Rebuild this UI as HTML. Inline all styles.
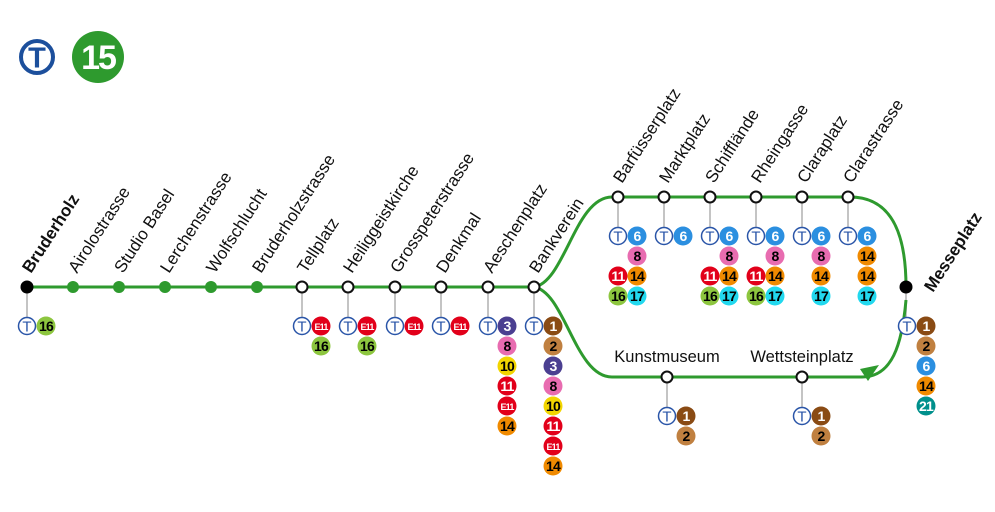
<!DOCTYPE html>
<html><head><meta charset="utf-8"><style>
html,body{margin:0;padding:0;background:#fff}
svg{display:block}
text{font-family:"Liberation Sans",sans-serif}
</style></head><body>
<svg width="995" height="512" viewBox="0 0 995 512" xmlns="http://www.w3.org/2000/svg">
<defs>
<g id="T"><circle r="8.5" fill="#fff" stroke="#2a55a8" stroke-width="1.5"/><text y="5.5" text-anchor="middle" font-size="15" fill="#2a55a8">T</text></g>
</defs>
<!-- logo -->
<circle cx="37" cy="57" r="16" fill="#fff" stroke="#1c4f9c" stroke-width="4"/>
<text x="37" y="67.5" text-anchor="middle" font-size="29" font-weight="bold" fill="#1c4f9c">T</text>
<circle cx="98" cy="57" r="26" fill="#2e9a2e"/>
<text x="98" y="69" text-anchor="middle" font-size="34" font-weight="bold" fill="#fff" letter-spacing="-2">15</text>

<g stroke="#c4c4c4" stroke-width="2">
<line x1="27" y1="287" x2="27" y2="318"/><line x1="302" y1="287" x2="302" y2="318"/><line x1="348" y1="287" x2="348" y2="318"/><line x1="395" y1="287" x2="395" y2="318"/><line x1="441" y1="287" x2="441" y2="318"/><line x1="488" y1="287" x2="488" y2="318"/><line x1="534" y1="287" x2="534" y2="318"/>
<line x1="618" y1="197" x2="618" y2="228"/><line x1="664" y1="197" x2="664" y2="228"/><line x1="710" y1="197" x2="710" y2="228"/><line x1="756" y1="197" x2="756" y2="228"/><line x1="802" y1="197" x2="802" y2="228"/><line x1="848" y1="197" x2="848" y2="228"/>
<line x1="667" y1="377" x2="667" y2="408"/><line x1="802" y1="377" x2="802" y2="408"/>
<line x1="906" y1="287" x2="906" y2="318"/>
</g>

<g fill="none" stroke="#2e9a2e" stroke-width="3">
<line x1="27" y1="287" x2="534" y2="287"/>
<path d="M534,287 C565,282 575,197 612,197 L850,197 C895,197 906,240 906,287"/>
<path d="M534,287 C565,292 575,377 612,377 L862,377 C892,377 902,345 906,300"/>
</g>
<path d="M860,369 L879,365 L868,381 Z" fill="#2e9a2e"/>

<g fill="#2e9a2e"><circle cx="73" cy="287" r="6"/><circle cx="119" cy="287" r="6"/><circle cx="165" cy="287" r="6"/><circle cx="211" cy="287" r="6"/><circle cx="257" cy="287" r="6"/></g>
<g fill="#fff" stroke="#111" stroke-width="2">
<circle cx="302" cy="287" r="5.5"/><circle cx="348" cy="287" r="5.5"/><circle cx="395" cy="287" r="5.5"/><circle cx="441" cy="287" r="5.5"/><circle cx="488" cy="287" r="5.5"/><circle cx="534" cy="287" r="5.5"/>
<circle cx="618" cy="197" r="5.5"/><circle cx="664" cy="197" r="5.5"/><circle cx="710" cy="197" r="5.5"/><circle cx="756" cy="197" r="5.5"/><circle cx="802" cy="197" r="5.5"/><circle cx="848" cy="197" r="5.5"/>
<circle cx="667" cy="377" r="5.5"/><circle cx="802" cy="377" r="5.5"/>
</g>
<circle cx="27" cy="287" r="6.5" fill="#000"/>
<circle cx="906" cy="287" r="6.5" fill="#000"/>

<g font-size="17" fill="#111">
<text transform="translate(31,274) rotate(-57)" font-weight="bold">Bruderholz</text>
<text transform="translate(77,274) rotate(-57)">Airolostrasse</text>
<text transform="translate(123,274) rotate(-57)">Studio Basel</text>
<text transform="translate(169,274) rotate(-57)">Lerchenstrasse</text>
<text transform="translate(215,274) rotate(-57)">Wolfschlucht</text>
<text transform="translate(261,274) rotate(-57)">Bruderholzstrasse</text>
<text transform="translate(306,274) rotate(-57)">Tellplatz</text>
<text transform="translate(352,274) rotate(-57)">Heiliggeistkirche</text>
<text transform="translate(399,274) rotate(-57)">Grosspeterstrasse</text>
<text transform="translate(445,274) rotate(-57)">Denkmal</text>
<text transform="translate(492,274) rotate(-57)">Aeschenplatz</text>
<text transform="translate(538,274) rotate(-57)">Bankverein</text>
<text transform="translate(622,184) rotate(-57)">Barfüsserplatz</text>
<text transform="translate(668,184) rotate(-57)">Marktplatz</text>
<text transform="translate(714,184) rotate(-57)">Schifflände</text>
<text transform="translate(760,184) rotate(-57)">Rheingasse</text>
<text transform="translate(806,184) rotate(-57)">Claraplatz</text>
<text transform="translate(852,184) rotate(-57)">Clarastrasse</text>
<text transform="translate(933,293) rotate(-57)" font-weight="bold">Messeplatz</text>
<text x="667" y="362" text-anchor="middle" font-size="16.5">Kunstmuseum</text>
<text x="802" y="362" text-anchor="middle" font-size="16.5">Wettsteinplatz</text>
</g>

<use href="#T" x="27" y="326"/><use href="#T" x="302" y="326"/><use href="#T" x="348" y="326"/><use href="#T" x="395" y="326"/><use href="#T" x="441" y="326"/><use href="#T" x="488" y="326"/><use href="#T" x="534" y="326"/>
<use href="#T" x="618" y="236"/><use href="#T" x="664" y="236"/><use href="#T" x="710" y="236"/><use href="#T" x="756" y="236"/><use href="#T" x="802" y="236"/><use href="#T" x="848" y="236"/>
<use href="#T" x="667" y="416"/><use href="#T" x="802" y="416"/><use href="#T" x="907" y="326"/>

<g font-size="14" font-weight="bold" text-anchor="middle" letter-spacing="-0.8">
<circle cx="46" cy="326" r="9.5" fill="#8dc63f"/><text x="46" y="331" fill="#000">16</text>
<circle cx="321" cy="326" r="9.5" fill="#e2001a"/><text x="321" y="330" fill="#fff" font-size="9">E11</text>
<circle cx="321" cy="346" r="9.5" fill="#8dc63f"/><text x="321" y="351" fill="#000">16</text>
<circle cx="367" cy="326" r="9.5" fill="#e2001a"/><text x="367" y="330" fill="#fff" font-size="9">E11</text>
<circle cx="367" cy="346" r="9.5" fill="#8dc63f"/><text x="367" y="351" fill="#000">16</text>
<circle cx="414" cy="326" r="9.5" fill="#e2001a"/><text x="414" y="330" fill="#fff" font-size="9">E11</text>
<circle cx="460" cy="326" r="9.5" fill="#e2001a"/><text x="460" y="330" fill="#fff" font-size="9">E11</text>
<circle cx="507" cy="326" r="9.5" fill="#4b3f91"/><text x="507" y="331" fill="#fff">3</text>
<circle cx="507" cy="346" r="9.5" fill="#e86cb0"/><text x="507" y="351" fill="#000">8</text>
<circle cx="507" cy="366" r="9.5" fill="#f2d500"/><text x="507" y="371" fill="#000">10</text>
<circle cx="507" cy="386" r="9.5" fill="#e2001a"/><text x="507" y="391" fill="#fff">11</text>
<circle cx="507" cy="406" r="9.5" fill="#e2001a"/><text x="507" y="410" fill="#fff" font-size="9">E11</text>
<circle cx="507" cy="426" r="9.5" fill="#f08a00"/><text x="507" y="431" fill="#000">14</text>
<circle cx="553" cy="326" r="9.5" fill="#8a4b14"/><text x="553" y="331" fill="#fff">1</text>
<circle cx="553" cy="346" r="9.5" fill="#c08040"/><text x="553" y="351" fill="#000">2</text>
<circle cx="553" cy="366" r="9.5" fill="#4b3f91"/><text x="553" y="371" fill="#fff">3</text>
<circle cx="553" cy="386" r="9.5" fill="#e86cb0"/><text x="553" y="391" fill="#000">8</text>
<circle cx="553" cy="406" r="9.5" fill="#f2d500"/><text x="553" y="411" fill="#000">10</text>
<circle cx="553" cy="426" r="9.5" fill="#e2001a"/><text x="553" y="431" fill="#fff">11</text>
<circle cx="553" cy="446" r="9.5" fill="#e2001a"/><text x="553" y="450" fill="#fff" font-size="9">E11</text>
<circle cx="553" cy="466" r="9.5" fill="#f08a00"/><text x="553" y="471" fill="#000">14</text>
<circle cx="637" cy="236" r="9.5" fill="#2b8fe0"/><text x="637" y="241" fill="#fff">6</text>
<circle cx="637" cy="256" r="9.5" fill="#e86cb0"/><text x="637" y="261" fill="#000">8</text>
<circle cx="618" cy="276" r="9.5" fill="#e2001a"/><text x="618" y="281" fill="#fff">11</text>
<circle cx="637" cy="276" r="9.5" fill="#f08a00"/><text x="637" y="281" fill="#000">14</text>
<circle cx="618" cy="296" r="9.5" fill="#8dc63f"/><text x="618" y="301" fill="#000">16</text>
<circle cx="637" cy="296" r="9.5" fill="#22d8ee"/><text x="637" y="301" fill="#000">17</text>
<circle cx="683" cy="236" r="9.5" fill="#2b8fe0"/><text x="683" y="241" fill="#fff">6</text>
<circle cx="729" cy="236" r="9.5" fill="#2b8fe0"/><text x="729" y="241" fill="#fff">6</text>
<circle cx="729" cy="256" r="9.5" fill="#e86cb0"/><text x="729" y="261" fill="#000">8</text>
<circle cx="710" cy="276" r="9.5" fill="#e2001a"/><text x="710" y="281" fill="#fff">11</text>
<circle cx="729" cy="276" r="9.5" fill="#f08a00"/><text x="729" y="281" fill="#000">14</text>
<circle cx="710" cy="296" r="9.5" fill="#8dc63f"/><text x="710" y="301" fill="#000">16</text>
<circle cx="729" cy="296" r="9.5" fill="#22d8ee"/><text x="729" y="301" fill="#000">17</text>
<circle cx="775" cy="236" r="9.5" fill="#2b8fe0"/><text x="775" y="241" fill="#fff">6</text>
<circle cx="775" cy="256" r="9.5" fill="#e86cb0"/><text x="775" y="261" fill="#000">8</text>
<circle cx="756" cy="276" r="9.5" fill="#e2001a"/><text x="756" y="281" fill="#fff">11</text>
<circle cx="775" cy="276" r="9.5" fill="#f08a00"/><text x="775" y="281" fill="#000">14</text>
<circle cx="756" cy="296" r="9.5" fill="#8dc63f"/><text x="756" y="301" fill="#000">16</text>
<circle cx="775" cy="296" r="9.5" fill="#22d8ee"/><text x="775" y="301" fill="#000">17</text>
<circle cx="821" cy="236" r="9.5" fill="#2b8fe0"/><text x="821" y="241" fill="#fff">6</text>
<circle cx="821" cy="256" r="9.5" fill="#e86cb0"/><text x="821" y="261" fill="#000">8</text>
<circle cx="821" cy="276" r="9.5" fill="#f08a00"/><text x="821" y="281" fill="#000">14</text>
<circle cx="821" cy="296" r="9.5" fill="#22d8ee"/><text x="821" y="301" fill="#000">17</text>
<circle cx="867" cy="236" r="9.5" fill="#2b8fe0"/><text x="867" y="241" fill="#fff">6</text>
<circle cx="867" cy="256" r="9.5" fill="#f08a00"/><text x="867" y="261" fill="#000">14</text>
<circle cx="867" cy="276" r="9.5" fill="#f08a00"/><text x="867" y="281" fill="#000">14</text>
<circle cx="867" cy="296" r="9.5" fill="#22d8ee"/><text x="867" y="301" fill="#000">17</text>
<circle cx="686" cy="416" r="9.5" fill="#8a4b14"/><text x="686" y="421" fill="#fff">1</text>
<circle cx="686" cy="436" r="9.5" fill="#c08040"/><text x="686" y="441" fill="#000">2</text>
<circle cx="821" cy="416" r="9.5" fill="#8a4b14"/><text x="821" y="421" fill="#fff">1</text>
<circle cx="821" cy="436" r="9.5" fill="#c08040"/><text x="821" y="441" fill="#000">2</text>
<circle cx="926" cy="326" r="9.5" fill="#8a4b14"/><text x="926" y="331" fill="#fff">1</text>
<circle cx="926" cy="346" r="9.5" fill="#c08040"/><text x="926" y="351" fill="#000">2</text>
<circle cx="926" cy="366" r="9.5" fill="#2b8fe0"/><text x="926" y="371" fill="#fff">6</text>
<circle cx="926" cy="386" r="9.5" fill="#f08a00"/><text x="926" y="391" fill="#000">14</text>
<circle cx="926" cy="406" r="9.5" fill="#00908c"/><text x="926" y="411" fill="#fff">21</text>
</g>
</svg>
</body></html>
